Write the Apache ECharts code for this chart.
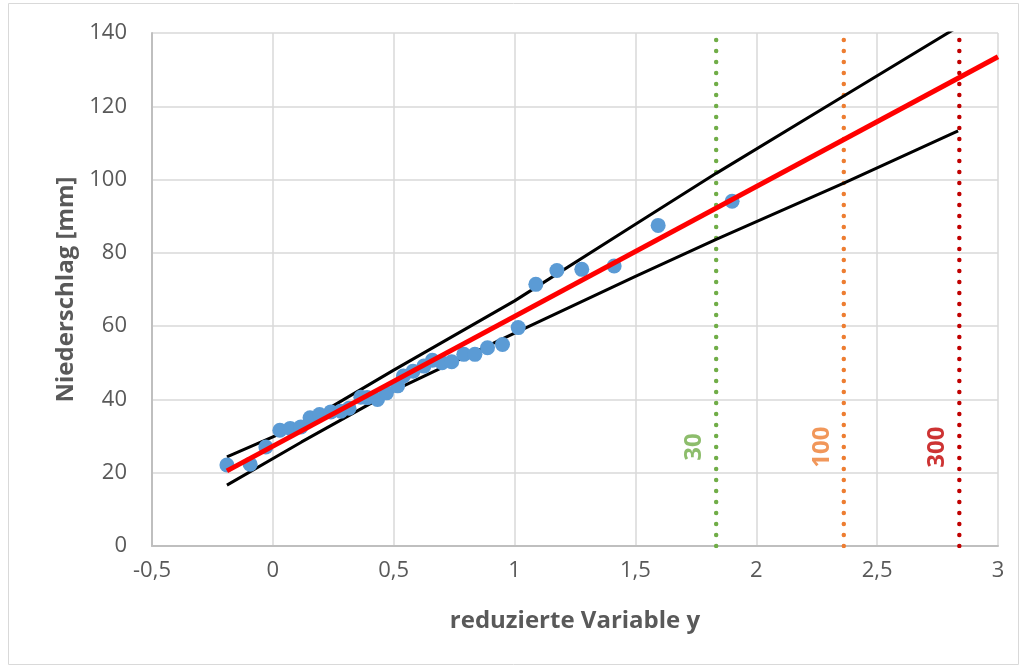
<!DOCTYPE html>
<html>
<head>
<meta charset="utf-8">
<script src="https://cdn.jsdelivr.net/npm/echarts@6/dist/echarts.min.js"></script>
<style>
html, body { margin:0; padding:0; background:#fff; }
#main { width:1025px; height:668px; }
</style>
</head>
<body>
<div id="main"></div>
<script>
// Messwerte (reduzierte Variable y / Niederschlag mm)
var pointsX = [-0.19, -0.094, -0.029, 0.029, 0.072, 0.116, 0.154, 0.193, 0.24, 0.281, 0.315, 0.364, 0.39, 0.433, 0.47, 0.516, 0.54, 0.58, 0.625, 0.66, 0.70, 0.74, 0.79, 0.836, 0.888, 0.95, 1.015, 1.088, 1.175, 1.278, 1.412, 1.594, 1.90];
var pointsY = [22.1, 22.3, 27.0, 31.6, 32.1, 32.5, 35.0, 35.9, 36.6, 36.8, 37.6, 40.6, 40.5, 40.0, 41.8, 43.7, 46.4, 47.7, 49.1, 50.7, 50.0, 50.3, 52.3, 52.3, 54.1, 55.0, 59.6, 71.4, 75.2, 75.5, 76.4, 87.5, 94.1];

// Ausgleichsgerade
var fitX = [-0.19, 3.0];
var fitY = [20.5, 133.5];

// Vertrauensbereich
var upperX = [-0.19, 0.119, 0.5, 1.0, 1.5, 1.834, 2.362, 2.84];
var upperY = [24.3, 33.2, 48.0, 66.9, 87.8, 101.7, 122.8, 141.9];
var lowerX = [-0.19, 0.119, 0.5, 1.0, 1.5, 1.834, 2.362, 2.835];
var lowerY = [16.6, 28.4, 42.4, 58.1, 73.6, 83.7, 99.0, 113.3];

// Wiederkehrintervalle
var returnLabels = ['30', '100', '300'];
var returnX = [1.834, 2.362, 2.84];
var returnColors = ['#70AD47', '#ED7D31', '#C00000'];
var labelY = 27;

var dom = document.getElementById("main");
var myChart = echarts.init(dom);
var option = null;

function pairs(xs, ys) {
    var out = [];
    for (var i = 0; i < xs.length; i++) out.push([xs[i], ys[i]]);
    return out;
}

var series = [];

for (var k = 0; k < returnX.length; k++) {
    series.push({
        type: 'line',
        data: [[returnX[k], 0], [returnX[k], 140]],
        symbol: 'none',
        silent: true,
        z: 1,
        lineStyle: { color: returnColors[k], width: 4.5, type: [0.1, 10.9], cap: 'round' }
    });
    series.push({
        type: 'scatter',
        data: [[returnX[k], labelY]],
        symbolSize: 0,
        silent: true,
        label: {
            show: true,
            formatter: returnLabels[k],
            position: 'inside',
            offset: [0, -22],
            rotate: 90,
            color: returnColors[k],
            fontWeight: 'bold',
            fontSize: 24,
            fontFamily: 'Open Sans'
        }
    });
}

series.push({
    type: 'line',
    data: pairs(upperX, upperY),
    symbol: 'none',
    z: 3,
    lineStyle: { color: '#000', width: 3 }
});
series.push({
    type: 'line',
    data: pairs(lowerX, lowerY),
    symbol: 'none',
    z: 3,
    lineStyle: { color: '#000', width: 3 }
});
series.push({
    type: 'scatter',
    data: pairs(pointsX, pointsY),
    symbolSize: 15,
    z: 4,
    itemStyle: { color: '#5B9BD5', opacity: 1 }
});
series.push({
    type: 'line',
    data: pairs(fitX, fitY),
    symbol: 'none',
    z: 5,
    lineStyle: { color: '#FF0000', width: 5 }
});

option = {
    animation: false,
    textStyle: { fontFamily: 'Open Sans' },
    graphic: [{
        type: 'rect',
        shape: { x: 8.5, y: 3.5, width: 1010, height: 661 },
        style: { fill: 'none', stroke: '#D9D9D9', lineWidth: 1 },
        silent: true
    }],
    grid: { left: 152, right: 27, top: 33, bottom: 122 },
    xAxis: {
        type: 'value',
        min: -0.5,
        max: 3,
        interval: 0.5,
        name: 'reduzierte Variable y',
        nameLocation: 'middle',
        nameGap: 63,
        nameTextStyle: { color: '#595959', fontSize: 24, fontWeight: 'bold', fontFamily: 'Open Sans' },
        axisLine: { show: true, onZero: false, lineStyle: { color: '#BFBFBF', width: 2 } },
        axisTick: { show: false },
        axisLabel: {
            color: '#595959', fontSize: 22, margin: 14,
            formatter: function (v) { return String(v).replace('.', ','); }
        },
        splitLine: { show: true, lineStyle: { color: '#D9D9D9', width: 1.5 } }
    },
    yAxis: {
        type: 'value',
        min: 0,
        max: 140,
        interval: 20,
        name: 'Niederschlag [mm]',
        nameLocation: 'middle',
        nameGap: 74,
        nameTextStyle: { color: '#595959', fontSize: 24, fontWeight: 'bold', fontFamily: 'Open Sans' },
        axisLine: { show: true, onZero: false, lineStyle: { color: '#BFBFBF', width: 2 } },
        axisTick: { show: false },
        axisLabel: { color: '#595959', fontSize: 22, margin: 25 },
        splitLine: { show: true, lineStyle: { color: '#D9D9D9', width: 1.5 } }
    },
    series: series
};

// Invoke
if (option && typeof option === "object") {
    myChart.setOption(option, true);
}
</script>
</body>
</html>
